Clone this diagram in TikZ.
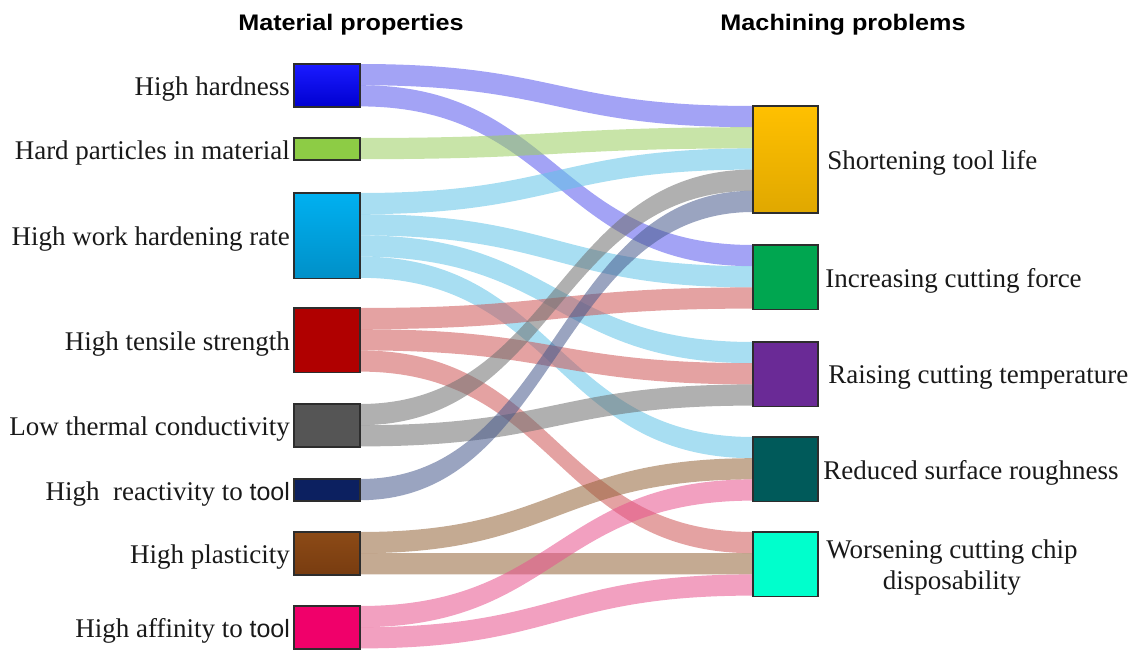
\documentclass[tikz,border=0pt]{standalone}
\usepackage{fontspec}
\setmainfont{Liberation Serif}
\setsansfont{Liberation Sans}
\usetikzlibrary{calc}
\definecolor{bL1t}{RGB}{26,26,255}\definecolor{bL1b}{RGB}{0,0,208}
\definecolor{bL2}{RGB}{141,204,69}
\definecolor{bL3t}{RGB}{0,176,240}\definecolor{bL3b}{RGB}{0,144,200}
\definecolor{bL4}{RGB}{176,0,0}
\definecolor{bL5}{RGB}{85,85,85}
\definecolor{bL6}{RGB}{12,32,96}
\definecolor{bL7t}{RGB}{140,74,22}\definecolor{bL7b}{RGB}{120,60,16}
\definecolor{bL8}{RGB}{240,0,106}
\definecolor{bR1t}{RGB}{255,192,0}\definecolor{bR1b}{RGB}{224,168,0}
\definecolor{bR2}{RGB}{0,166,80}
\definecolor{bR3}{RGB}{106,42,150}
\definecolor{bR4}{RGB}{0,90,90}
\definecolor{bR5}{RGB}{0,255,204}
\definecolor{fL1}{RGB}{88,88,237}
\definecolor{fL2}{RGB}{155,206,97}
\definecolor{fL3}{RGB}{97,195,231}
\definecolor{fL4}{RGB}{206,86,86}
\definecolor{fL5}{RGB}{111,111,111}
\definecolor{fL6}{RGB}{71,90,140}
\definecolor{fL7}{RGB}{148,100,57}
\definecolor{fL8}{RGB}{231,82,140}
\definecolor{txt}{RGB}{25,25,25}
\definecolor{edge}{RGB}{45,45,45}
\newcommand\flowband[6]{%
  \fill[#1, fill opacity=.55] let \p1=(#2.north east), \p2=(#4.north west), \n1={(\x1+\x2)/2} in
  (\x1,\y1-#3pt) .. controls (\n1,\y1-#3pt) and (\n1,\y2-#5pt) .. (\x2,\y2-#5pt)
  -- (\x2,\y2-#5pt-#6pt) .. controls (\n1,\y2-#5pt-#6pt) and (\n1,\y1-#3pt-#6pt) .. (\x1,\y1-#3pt-#6pt) -- cycle;}
\tikzset{
  box/.style={draw=edge, line width=1.1pt, inner sep=0pt, anchor=north west},
  lbox/.style={box, minimum width=65pt},
  rbox/.style={box, minimum width=64pt},
  lbl/.style={text=txt, font=\fontsize{27}{31}\selectfont, inner sep=0pt},
  ttl/.style={text=black, font=\sffamily\bfseries\fontsize{22.5}{27}\selectfont, inner sep=0pt},
}
\begin{document}
\begin{tikzpicture}[x=1pt,y=-1pt]
\useasboundingbox (0,0) rectangle (1133,650);
\def\u{21.2}
% boxes
\node[lbox, top color=bL1t, bottom color=bL1b, minimum height=42.4pt] (L1) at (294,64) {};
\node[lbox, fill=bL2, minimum height=21.2pt] (L2) at (294,138) {};
\node[lbox, top color=bL3t, bottom color=bL3b, minimum height=84.8pt] (L3) at (294,193) {};
\node[lbox, fill=bL4, minimum height=63.6pt] (L4) at (294,308) {};
\node[lbox, fill=bL5, minimum height=42.4pt] (L5) at (294,404) {};
\node[lbox, fill=bL6, minimum height=21.2pt] (L6) at (294,479) {};
\node[lbox, top color=bL7t, bottom color=bL7b, minimum height=42.4pt] (L7) at (294,532) {};
\node[lbox, fill=bL8, minimum height=42.4pt] (L8) at (294,606) {};
\node[rbox, top color=bR1t, bottom color=bR1b, minimum height=106pt] (R1) at (753,106) {};
\node[rbox, fill=bR2, minimum height=63.6pt] (R2) at (753,245) {};
\node[rbox, fill=bR3, minimum height=63.6pt] (R3) at (753,342) {};
\node[rbox, fill=bR4, minimum height=63.6pt] (R4) at (753,437) {};
\node[rbox, fill=bR5, minimum height=63.6pt] (R5) at (753,532) {};
% flows
\flowband{fL1}{L1}{0}{R1}{0}{\u}
\flowband{fL1}{L1}{\u}{R2}{0}{\u}
\flowband{fL2}{L2}{0}{R1}{\u}{\u}
\flowband{fL3}{L3}{0}{R1}{2*\u}{\u}
\flowband{fL3}{L3}{\u}{R2}{\u}{\u}
\flowband{fL3}{L3}{2*\u}{R3}{0}{\u}
\flowband{fL3}{L3}{3*\u}{R4}{0}{\u}
\flowband{fL4}{L4}{0}{R2}{2*\u}{\u}
\flowband{fL4}{L4}{\u}{R3}{\u}{\u}
\flowband{fL4}{L4}{2*\u}{R5}{0}{\u}
\flowband{fL5}{L5}{0}{R1}{3*\u}{\u}
\flowband{fL5}{L5}{\u}{R3}{2*\u}{\u}
\flowband{fL6}{L6}{0}{R1}{4*\u}{\u}
\flowband{fL7}{L7}{0}{R4}{\u}{\u}
\flowband{fL7}{L7}{\u}{R5}{\u}{\u}
\flowband{fL8}{L8}{0}{R4}{2*\u}{\u}
\flowband{fL8}{L8}{\u}{R5}{2*\u}{\u}
% redraw box outlines on top
\foreach \n in {L1,L2,L3,L4,L5,L6,L7,L8,R1,R2,R3,R4,R5}{
  \draw[draw=edge, line width=1.1pt] (\n.north west) rectangle (\n.south east);}
% labels
\node[lbl, anchor=base east] (tL1) at ($(L1.east)+(-70,10)$) {High hardness};
\node[lbl, anchor=base east] (tL2) at ($(L2.east)+(-70,10)$) {Hard particles in material};
\node[lbl, anchor=base east] (tL3) at ($(L3.east)+(-70,10)$) {High work hardening rate};
\node[lbl, anchor=base east] (tL4) at ($(L4.east)+(-70,10)$) {High tensile strength};
\node[lbl, anchor=base east] (tL5) at ($(L5.east)+(-70,10)$) {Low thermal conductivity};
\node[lbl, anchor=base east] (tL6) at ($(L6.east)+(-70,10)$) {High\ \ reactivity to {\sffamily\fontsize{25}{29}\selectfont tool}};
\node[lbl, anchor=base east] (tL7) at ($(L7.east)+(-70,10)$) {High plasticity};
\node[lbl, anchor=base east] (tL8) at ($(L8.east)+(-70,10)$) {High affinity to {\sffamily\fontsize{25}{29}\selectfont tool}};
\node[lbl, anchor=base west] (tR1) at ($(R1.east)+(9,10)$) {Shortening tool life};
\node[lbl, anchor=base west] (tR2) at ($(R2.east)+(7,10)$) {Increasing cutting force};
\node[lbl, anchor=base west] (tR3) at ($(R3.east)+(10,9)$) {Raising cutting temperature};
\node[lbl, anchor=base west] (tR4) at ($(R4.east)+(5,10)$) {Reduced surface roughness};
\node[lbl, anchor=west, align=center, font=\fontsize{27}{31}\selectfont] (tR5) at ($(R5.east)+(8,3)$) {Worsening cutting chip\\disposability};
% titles
\node[ttl, anchor=base] (T1) at (351,31) {\scalebox{1.12}[1]{Material properties}};
\node[ttl, anchor=base] (T2) at (843,31) {\scalebox{1.12}[1]{Machining problems}};
\end{tikzpicture}
\end{document}
